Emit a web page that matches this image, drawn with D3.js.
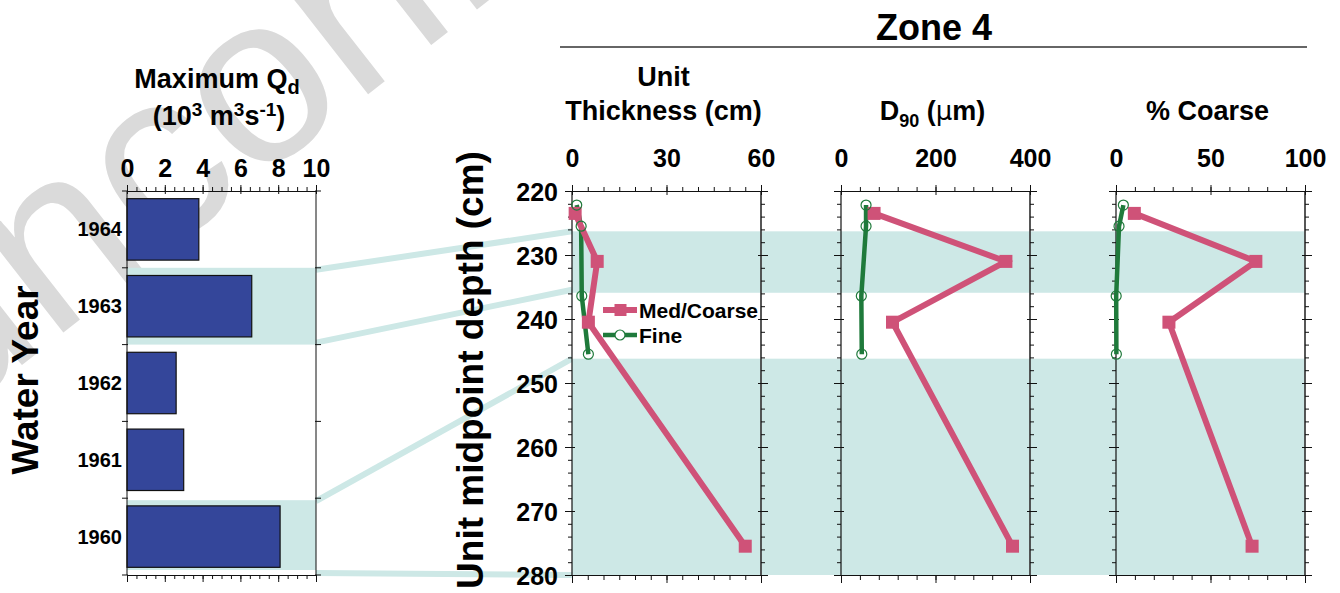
<!DOCTYPE html>
<html>
<head>
<meta charset="utf-8">
<script src="https://cdn.jsdelivr.net/npm/d3@7"></script>
<style>
  html, body { margin: 0; padding: 0; background: #fff; }
  svg { display: block; font-family: "Liberation Sans", Arial, sans-serif; font-weight: bold; }
  .tick line { stroke: #111; stroke-width: 1; }
  .tick text { fill: #000; }
</style>
</head>
<body>
<svg id="chart" width="1340" height="593"></svg>
<script>
// ---- Left panel: maximum discharge by water year ----
const years = ["1964", "1963", "1962", "1961", "1960"];
const maxQd = [3.8, 6.6, 2.6, 3.0, 8.1];
const highlightYears = ["1963", "1960"];
const qTicks = [0, 2, 4, 6, 8, 10];

// ---- Zone 4 profiles (unit midpoint depth, cm) ----
const coarseDepth = [223.5, 231.0, 240.5, 275.5];
const coarseThickness = [1.0, 8.0, 5.2, 55.0];
const coarseD90 = [70, 349, 109, 363];
const coarsePct = [9.7, 74, 28, 72];

const fineDepth = [222.2, 225.5, 236.4, 245.5];
const fineThickness = [1.5, 2.9, 3.1, 5.2];
const fineD90 = [53, 53, 43, 44];
const finePct = [3.9, 1.6, 0.1, 0.2];

// depth ranges of the med/coarse units (shaded)
const unitTop = [226.3, 246.2];
const unitBottom = [235.9, 280];

const depthTicks = [220, 230, 240, 250, 260, 270, 280];
const panelTitles = [["Unit", "Thickness (cm)"], ["D90 (\u03bcm)"], ["% Coarse"]];
const panelDomains = [[0, 60], [0, 400], [0, 100]];
const panelMajor = [[0, 30, 60], [0, 200, 400], [0, 50, 100]];
const panelMinorStep = [5, 40, 10];
const legendLabels = ["Med/Coarse", "Fine"];

const PINK = "#cf5278", GREEN = "#1f7a3b", BAND = "#cde8e6", BAR = "#34469a";

const svg = d3.select("#chart");

// watermark
svg.append("text")
  .attr("transform", "translate(-55,425) rotate(-38)")
  .attr("font-size", 240).attr("font-weight", "normal")
  .attr("fill", "#dadada")
  .text("unconfirmed");

// ---------- scales ----------
const xQ = d3.scaleLinear().domain([0, 10]).range([127, 316]);
const yYear = d3.scaleBand().domain(years).range([191, 575]).paddingInner(0.2).paddingOuter(0.1);
const step = yYear.step();
const bandTop = d => 191 + years.indexOf(d) * step;

const yDepth = d3.scaleLinear().domain([220, 280]).range([191, 575]);
const panelLeft = [572, 841, 1116];
const panelW = 189;
const xPanels = panelDomains.map((dom, i) =>
  d3.scaleLinear().domain(dom).range([panelLeft[i], panelLeft[i] + panelW]));

// ---------- shaded bands ----------
const gBands = svg.append("g");
highlightYears.forEach(yr => {
  gBands.append("rect")
    .attr("x", xQ(0)).attr("width", xQ(10) - xQ(0))
    .attr("y", bandTop(yr) + (yr === "1960" ? 2 : 0))
    .attr("height", step - (yr === "1960" ? 7 : 0))
    .attr("fill", BAND);
});
unitTop.forEach((t, i) => {
  gBands.append("rect")
    .attr("x", panelLeft[0]).attr("width", panelLeft[2] + panelW - panelLeft[0])
    .attr("y", yDepth(t)).attr("height", yDepth(unitBottom[i]) - yDepth(t))
    .attr("fill", BAND);
});

// connector lines between years and units
const links = [
  [bandTop("1963") + 2, yDepth(unitTop[0])],
  [bandTop("1963") + step - 2, yDepth(unitBottom[0]) - 3],
  [bandTop("1960") + 3, yDepth(unitTop[1])],
  [bandTop("1960") + step - 2, yDepth(unitBottom[1])]
];
svg.append("g").selectAll("line").data(links).join("line")
  .attr("x1", xQ(10)).attr("y1", d => d[0])
  .attr("x2", panelLeft[0]).attr("y2", d => d[1])
  .attr("stroke", BAND).attr("stroke-width", 6);

// ---------- left bar chart ----------
const gL = svg.append("g");
gL.selectAll("rect.bar").data(years).join("rect")
  .attr("class", "bar")
  .attr("x", xQ(0))
  .attr("y", d => yYear(d))
  .attr("width", (d, i) => xQ(maxQd[i]) - xQ(0))
  .attr("height", yYear.bandwidth())
  .attr("fill", BAR).attr("stroke", "#111").attr("stroke-width", 1.2);

// frame
gL.append("line").attr("x1", xQ(0)).attr("x2", xQ(0)).attr("y1", 191).attr("y2", 575).attr("stroke", "#111");
gL.append("line").attr("x1", xQ(10)).attr("x2", xQ(10)).attr("y1", 191).attr("y2", 575).attr("stroke", "#111");

function styleAxis(g, fs) {
  g.select(".domain").attr("stroke", "#111");
  g.selectAll(".tick text").attr("font-size", fs).attr("font-weight", "bold")
    .attr("font-family", '"Liberation Sans", Arial, sans-serif');
}

// top and bottom value axes
const qMinor = d3.range(0, 10.01, 0.5);
gL.append("g").attr("transform", "translate(0,191)")
  .call(d3.axisTop(xQ).tickValues(qMinor).tickSize(4).tickFormat(""))
  .call(g => g.select(".domain").attr("stroke", "#111"));
gL.append("g").attr("transform", "translate(0,191)")
  .call(d3.axisTop(xQ).tickValues(qTicks).tickSize(6).tickPadding(8).tickFormat(d3.format("d")))
  .call(g => styleAxis(g, 25))
  .call(g => g.selectAll(".tick line").attr("y2", -6).attr("y1", 3));
gL.append("g").attr("transform", "translate(0,575)")
  .call(d3.axisBottom(xQ).tickValues(qMinor).tickSize(4).tickFormat(""))
  .call(g => g.select(".domain").attr("stroke", "#111"));
gL.append("g").attr("transform", "translate(0,575)")
  .call(d3.axisBottom(xQ).tickValues(qTicks).tickSize(7).tickFormat(""))
  .call(g => g.select(".domain").remove());

// year boundary ticks on both sides
const boundaries = d3.range(0, years.length + 1).map(i => 191 + i * step);
gL.append("g").selectAll("line").data(boundaries).join("line")
  .attr("x1", xQ(0) - 5).attr("x2", xQ(0) + 1).attr("y1", d => d).attr("y2", d => d).attr("stroke", "#111");
gL.append("g").selectAll("line").data(boundaries).join("line")
  .attr("x1", xQ(10) - 1).attr("x2", xQ(10) + 5).attr("y1", d => d).attr("y2", d => d).attr("stroke", "#111");

// year labels
gL.append("g").selectAll("text").data(years).join("text")
  .attr("x", 122).attr("y", d => yYear(d) + yYear.bandwidth() / 2 + 7)
  .attr("text-anchor", "end").attr("font-size", 20)
  .text(d => d);

// titles
const t1 = svg.append("text").attr("x", 217).attr("y", 88).attr("text-anchor", "middle").attr("font-size", 27);
t1.append("tspan").text("Maximum Q");
t1.append("tspan").attr("dy", 6).attr("font-size", 20).text("d");
const t2 = svg.append("text").attr("x", 219).attr("y", 125).attr("text-anchor", "middle").attr("font-size", 27);
t2.append("tspan").text("(10");
t2.append("tspan").attr("dy", -9).attr("font-size", 19).text("3");
t2.append("tspan").attr("dy", 9).text(" m");
t2.append("tspan").attr("dy", -9).attr("font-size", 19).text("3");
t2.append("tspan").attr("dy", 9).text("s");
t2.append("tspan").attr("dy", -9).attr("font-size", 19).text("-1");
t2.append("tspan").attr("dy", 9).text(")");

svg.append("text")
  .attr("transform", "translate(38,380) rotate(-90)")
  .attr("text-anchor", "middle").attr("font-size", 37)
  .text("Water Year");

// ---------- right profile panels ----------
svg.append("text").attr("x", 934).attr("y", 40).attr("text-anchor", "middle").attr("font-size", 36).text("Zone 4");
svg.append("line").attr("x1", 560).attr("x2", 1307).attr("y1", 47).attr("y2", 47).attr("stroke", "#333").attr("stroke-width", 1.3);

svg.append("text")
  .attr("transform", "translate(483,370) rotate(-90)")
  .attr("text-anchor", "middle").attr("font-size", 37)
  .text("Unit midpoint depth (cm)");

const depthMinor = d3.range(220, 280.01, 2);
const panelData = [
  [coarseThickness, fineThickness],
  [coarseD90, fineD90],
  [coarsePct, finePct]
];

xPanels.forEach((x, i) => {
  const g = svg.append("g");
  const x0 = panelLeft[i], x1 = panelLeft[i] + panelW;
  const dom = panelDomains[i];
  const minor = d3.range(dom[0], dom[1] + 1e-9, panelMinorStep[i]);

  // frame sides
  g.append("line").attr("x1", x0).attr("x2", x0).attr("y1", 191).attr("y2", 575).attr("stroke", "#111").attr("stroke-width", 1.2);
  g.append("line").attr("x1", x1).attr("x2", x1).attr("y1", 191).attr("y2", 575).attr("stroke", "#444").attr("stroke-width", 1.8);

  // top axis
  g.append("g").attr("transform", "translate(0,191)")
    .call(d3.axisTop(x).tickValues(minor).tickSize(4).tickFormat(""))
    .call(a => a.select(".domain").attr("stroke", "#111"));
  g.append("g").attr("transform", "translate(0,191)")
    .call(d3.axisTop(x).tickValues(panelMajor[i]).tickSize(6).tickPadding(18).tickFormat(d3.format("d")))
    .call(a => styleAxis(a, 25))
    .call(a => a.selectAll(".tick line").attr("y1", 4));
  // bottom axis
  g.append("g").attr("transform", "translate(0,575)")
    .call(d3.axisBottom(x).tickValues(minor).tickSize(5).tickFormat(""))
    .call(a => a.select(".domain").attr("stroke", "#111"));
  g.append("g").attr("transform", "translate(0,575)")
    .call(d3.axisBottom(x).tickValues(panelMajor[i]).tickSize(8).tickFormat(""))
    .call(a => a.select(".domain").remove());

  // depth ticks, left and right
  g.append("g").attr("transform", `translate(${x0},0)`)
    .call(d3.axisLeft(yDepth).tickValues(depthMinor).tickSize(4).tickFormat(""))
    .call(a => a.select(".domain").remove());
  g.append("g").attr("transform", `translate(${x1},0)`)
    .call(d3.axisRight(yDepth).tickValues(depthMinor).tickSize(4).tickFormat(""))
    .call(a => a.select(".domain").remove());
  g.append("g").attr("transform", `translate(${x0},0)`)
    .call(d3.axisLeft(yDepth).tickValues(depthTicks).tickSize(7).tickPadding(7)
      .tickFormat(i === 0 ? d3.format("d") : ""))
    .call(a => styleAxis(a, 25))
    .call(a => a.select(".domain").remove())
    .call(a => a.selectAll(".tick line").attr("x1", 3))
    .call(a => a.selectAll(".tick text").attr("dy", "0.36em"));
  g.append("g").attr("transform", `translate(${x1},0)`)
    .call(d3.axisRight(yDepth).tickValues(depthTicks).tickSize(7).tickFormat(""))
    .call(a => a.select(".domain").remove())
    .call(a => a.selectAll(".tick line").attr("x1", -3));

  // title
  const cx = (x0 + x1) / 2 - 3;
  const lines = panelTitles[i];
  lines.forEach((ln, k) => {
    const t = g.append("text").attr("x", cx).attr("y", 120 - (lines.length - 1 - k) * 34)
      .attr("text-anchor", "middle").attr("font-size", 27);
    if (ln.startsWith("D90")) {
      t.append("tspan").text("D");
      t.append("tspan").attr("dy", 7).attr("font-size", 18).text("90");
      t.append("tspan").attr("dy", -7).text(" (");
      t.append("tspan").attr("font-weight", "normal").attr("font-family", '"DejaVu Sans", sans-serif').attr("font-size", 26).text("\u03bc");
      t.append("tspan").text("m)");
    } else {
      t.text(ln);
    }
  });

  const [coarse, fine] = panelData[i];
  const coarsePts = coarse.map((v, k) => [x(v), yDepth(coarseDepth[k])]);
  const finePts = fine.map((v, k) => [x(v), yDepth(fineDepth[k])]);
  const line = d3.line();

  g.append("path").attr("d", line(finePts)).attr("fill", "none")
    .attr("stroke", GREEN).attr("stroke-width", 4.5).attr("stroke-linejoin", "round");
  g.append("path").attr("d", line(coarsePts)).attr("fill", "none")
    .attr("stroke", PINK).attr("stroke-width", 6).attr("stroke-linejoin", "miter");
  g.selectAll("rect.sq").data(coarsePts).join("rect").attr("class", "sq")
    .attr("x", d => d[0] - 6.5).attr("y", d => d[1] - 6.5)
    .attr("width", 13).attr("height", 13).attr("fill", PINK);
  g.selectAll("circle.ci").data(finePts).join("circle").attr("class", "ci")
    .attr("cx", d => d[0]).attr("cy", d => d[1]).attr("r", 5)
    .attr("fill", "none").attr("stroke", GREEN).attr("stroke-width", 1.2);
});

// legend
const leg = svg.append("g");
legendLabels.forEach((lab, k) => {
  const y = 310 + k * 25;
  leg.append("line").attr("x1", 603).attr("x2", 637).attr("y1", y).attr("y2", y)
    .attr("stroke", k === 0 ? PINK : GREEN).attr("stroke-width", k === 0 ? 6 : 4.5);
  if (k === 0) {
    leg.append("rect").attr("x", 614.5).attr("y", y - 6).attr("width", 12).attr("height", 12).attr("fill", PINK);
  } else {
    leg.append("circle").attr("cx", 620).attr("cy", y).attr("r", 5).attr("fill", "#fff")
      .attr("stroke", GREEN).attr("stroke-width", 1.2);
  }
  leg.append("text").attr("x", 639).attr("y", y + 7.5).attr("font-size", 21).text(lab);
});
</script>
</body>
</html>
